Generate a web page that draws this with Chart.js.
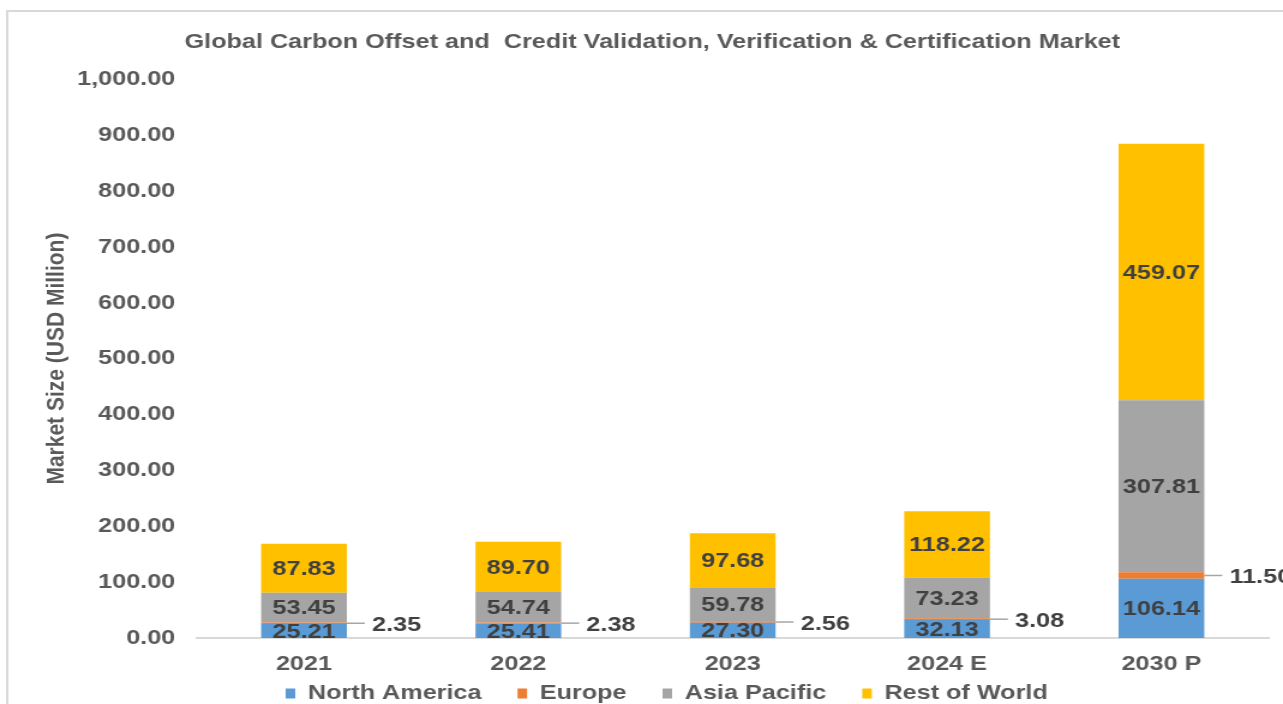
<!DOCTYPE html>
<html>
<head>
<meta charset="utf-8">
<title>Global Carbon Offset and Credit Validation, Verification & Certification Market</title>
<script src="https://cdn.jsdelivr.net/npm/chart.js@4"></script>
<style>
  html, body { margin: 0; padding: 0; background: #fff; overflow: hidden; }
  /* the source image is stretched ~1.2x horizontally, so the canvas is too */
  #chart { display: block; width: 1283px; height: 704px; }
</style>
</head>
<body>
<canvas id="chart" width="1069" height="704" style="width:1283px;height:704px"></canvas>
<script>
'use strict';

const years = ['2021', '2022', '2023', '2024 E', '2030 P'];
const northAmerica = [25.21, 25.41, 27.30, 32.13, 106.14];
const europe = [2.35, 2.38, 2.56, 3.08, 11.50];
const asiaPacific = [53.45, 54.74, 59.78, 73.23, 307.81];
const restOfWorld = [87.83, 89.70, 97.68, 118.22, 459.07];

const FONT = '"Liberation Sans", Arial, sans-serif';
const GREY = '#595959';

// light frame around the whole chart, cut by the right and bottom edges
const framePlugin = {
  id: 'frame',
  beforeDraw(chart) {
    const ctx = chart.ctx;
    ctx.save();
    ctx.strokeStyle = '#d9d9d9';
    ctx.lineWidth = 2;
    ctx.strokeRect(6, 11, 1400, 800);
    ctx.restore();
  }
};

// legend keeps its wide item padding but sits closer under the axis labels
const legendShift = {
  id: 'legendShift',
  afterLayout(chart) {
    chart.legend.top -= 21;
    chart.legend.left += 12;
    chart.legend.right += 12;
  }
};

// value labels: centred in each segment, Europe sits outside with a leader line
const labelPlugin = {
  id: 'segmentLabels',
  afterDatasetsDraw(chart) {
    const ctx = chart.ctx;
    ctx.save();
    ctx.font = 'bold 21px ' + FONT;
    ctx.fillStyle = '#404040';
    ctx.textBaseline = 'middle';
    chart.data.datasets.forEach(function(ds, i) {
      const meta = chart.getDatasetMeta(i);
      meta.data.forEach(function(bar, j) {
        const text = ds.data[j].toFixed(2);
        const mid = (bar.y + bar.base) / 2;
        if (ds.label === 'Europe') {
          const right = bar.x + bar.width / 2;
          ctx.strokeStyle = '#a6a6a6';
          ctx.lineWidth = 1.5;
          ctx.beginPath();
          ctx.moveTo(right, mid);
          ctx.lineTo(right + 15, mid);
          ctx.stroke();
          ctx.textAlign = 'left';
          ctx.fillText(text, right + 21, mid + 2);
        } else {
          ctx.textAlign = 'center';
          ctx.fillText(text, bar.x, mid + 1);
        }
      });
    });
    ctx.restore();
  }
};

const ctx = document.getElementById('chart');
new Chart(ctx, {
  type: 'bar',
  data: {
    labels: years,
    datasets: [
      { label: 'North America', data: northAmerica, backgroundColor: '#5b9bd5' },
      { label: 'Europe', data: europe, backgroundColor: '#ed7d31' },
      { label: 'Asia Pacific', data: asiaPacific, backgroundColor: '#a5a5a5' },
      { label: 'Rest of World', data: restOfWorld, backgroundColor: '#ffc000' }
    ]
  },
  options: {
    responsive: false,
    devicePixelRatio: 1,
    animation: false,
    categoryPercentage: 1,
    barPercentage: 0.4,
    layout: {
      padding: { left: 30, right: 12, top: 0, bottom: -8 }
    },
    plugins: {
      title: {
        display: true,
        text: 'Global Carbon Offset and  Credit Validation, Verification & Certification Market',
        color: GREY,
        font: { family: FONT, size: 21, weight: 'bold' },
        padding: { top: 30, bottom: 24 }
      },
      legend: {
        position: 'bottom',
        maxHeight: 38,
        labels: {
          color: GREY,
          font: { family: FONT, size: 21, weight: 'bold' },
          boxWidth: 8,
          boxHeight: 10,
          padding: 30
        }
      },
      tooltip: { enabled: false }
    },
    scales: {
      x: {
        stacked: true,
        grid: { display: false, drawTicks: false },
        border: { display: true, color: '#d9d9d9', width: 2 },
        ticks: {
          color: GREY,
          font: { family: FONT, size: 21, weight: 'bold' },
          padding: 14
        },
        afterFit: function(scale) {
          scale.height = 36;
        }
      },
      y: {
        stacked: true,
        min: 0,
        max: 1000,
        grid: { display: false, drawTicks: false },
        border: { display: false },
        title: {
          display: true,
          text: 'Market Size (USD Million)',
          color: GREY,
          font: { family: FONT, size: 21, weight: 'bold' },
          padding: { top: 5, bottom: 0 }
        },
        ticks: {
          stepSize: 100,
          color: GREY,
          font: { family: FONT, size: 21, weight: 'bold' },
          padding: 18,
          callback: function(v) {
            return Number(v).toLocaleString('en-US', { minimumFractionDigits: 2, maximumFractionDigits: 2 });
          }
        },
        afterFit: function(scale) {
          scale.width = 134;
        }
      }
    }
  },
  plugins: [framePlugin, legendShift, labelPlugin]
});
</script>
</body>
</html>
